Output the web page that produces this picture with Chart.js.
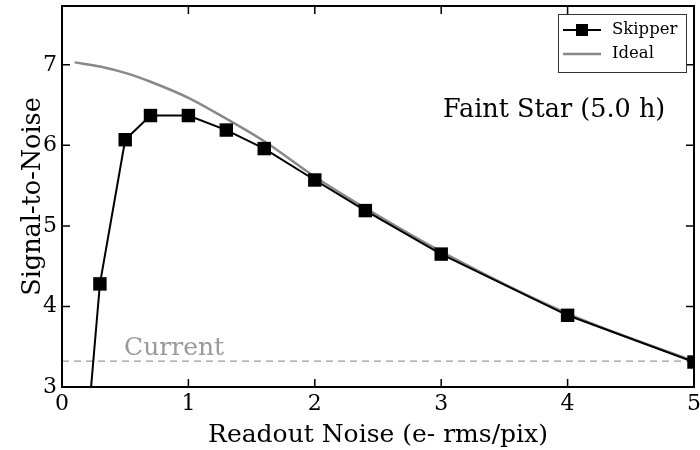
<!DOCTYPE html>
<html>
<head>
<meta charset="utf-8">
<script src="https://cdn.jsdelivr.net/npm/chart.js@4"></script>
<style>
  html, body { margin: 0; padding: 0; background: #fff; }
  #wrap { width: 700px; height: 450px; }
</style>
</head>
<body>
<div id="wrap"><canvas id="snr"></canvas></div>
<script>
// Readout noise values (e- rms/pix) and S/N
const skipperNoise = [0.2, 0.3, 0.5, 0.7, 1.0, 1.3, 1.6, 2.0, 2.4, 3.0, 4.0, 5.0];
const skipperSNR = [2.45, 4.28, 6.07, 6.37, 6.37, 6.19, 5.96, 5.57, 5.19, 4.65, 3.89, 3.31];

const idealNoise = [0.1, 0.3, 0.5, 0.7, 1.0, 1.3, 1.6, 2.0, 2.4, 3.0, 4.0, 5.0];
const idealSNR = [7.03, 6.98, 6.90, 6.79, 6.59, 6.33, 6.05, 5.61, 5.22, 4.68, 3.91, 3.32];

const currentLevel = 3.32;
const xTicks = [0, 1, 2, 3, 4, 5];
const yTicks = [3, 4, 5, 6, 7];

const SERIF = "'DejaVu Serif', serif";

const toPoints = (xs, ys) => xs.map((x, i) => ({ x: x, y: ys[i] }));

// keep the edge tick labels from pushing the plot area inwards
const noEdgePadding = (s) => {
  s.paddingLeft = s.paddingRight = s.paddingTop = s.paddingBottom = 0;
};

// inward ticks, frame, annotation text and legend, matplotlib style
const framePlugin = {
  id: "frame",
  afterDatasetsDraw(chart) {
    const { ctx, chartArea: a, scales } = chart;
    ctx.save();
    ctx.strokeStyle = "#000";
    ctx.lineWidth = 1.5;
    const len = 8;
    xTicks.forEach((v) => {
      const px = scales.x.getPixelForValue(v);
      ctx.beginPath();
      ctx.moveTo(px, a.bottom); ctx.lineTo(px, a.bottom - len);
      ctx.moveTo(px, a.top); ctx.lineTo(px, a.top + len);
      ctx.stroke();
    });
    yTicks.forEach((v) => {
      const py = scales.y.getPixelForValue(v);
      ctx.beginPath();
      ctx.moveTo(a.left, py); ctx.lineTo(a.left + len, py);
      ctx.moveTo(a.right, py); ctx.lineTo(a.right - len, py);
      ctx.stroke();
    });
    ctx.lineWidth = 2;
    ctx.strokeRect(a.left, a.top, a.right - a.left, a.bottom - a.top);

    // labels inside the plot
    ctx.textBaseline = "middle";
    ctx.fillStyle = "#000";
    ctx.font = "25.5px " + SERIF;
    ctx.textAlign = "left";
    ctx.fillText("Faint Star (5.0 h)", 443, 110);
    ctx.fillStyle = "#999";
    ctx.font = "25px " + SERIF;
    ctx.fillText("Current", 124, 348);

    // legend
    const lx = 558, ly = 14, lw = 128, lh = 58;
    ctx.fillStyle = "#fff";
    ctx.fillRect(lx, ly, lw, lh);
    ctx.strokeStyle = "#333";
    ctx.lineWidth = 1;
    ctx.strokeRect(lx + 0.5, ly + 0.5, lw, lh);
    const rows = [
      { label: chart.data.datasets[0].label, color: "#000", width: 2, marker: true, y: ly + 16 },
      { label: chart.data.datasets[1].label, color: "#888", width: 2.5, marker: false, y: ly + 40 },
    ];
    rows.forEach((r) => {
      ctx.strokeStyle = r.color;
      ctx.lineWidth = r.width;
      ctx.beginPath();
      ctx.moveTo(lx + 5, r.y); ctx.lineTo(lx + 43, r.y);
      ctx.stroke();
      if (r.marker) {
        ctx.fillStyle = "#000";
        ctx.fillRect(lx + 18, r.y - 6, 12, 12);
      }
      ctx.fillStyle = "#000";
      ctx.font = "16.5px " + SERIF;
      ctx.fillText(r.label, lx + 54, r.y);
    });
    ctx.restore();
  },
};

new Chart(document.getElementById("snr"), {
  type: "line",
  data: {
    datasets: [
      {
        label: "Skipper",
        data: toPoints(skipperNoise, skipperSNR),
        borderColor: "#000",
        backgroundColor: "#000",
        borderWidth: 2,
        pointStyle: "rect",
        pointRadius: 9.5,
        pointBorderWidth: 0,
        tension: 0,
        clip: 0,
      },
      {
        label: "Ideal",
        data: toPoints(idealNoise, idealSNR),
        borderColor: "#888",
        borderWidth: 2.5,
        pointRadius: 0,
        cubicInterpolationMode: "monotone",
      },
      {
        label: "Current",
        data: toPoints([xTicks[0], xTicks[xTicks.length - 1]], [currentLevel, currentLevel]),
        borderColor: "#999",
        borderWidth: 1.2,
        borderDash: [7, 5],
        pointRadius: 0,
      },
    ],
  },
  options: {
    responsive: true,
    maintainAspectRatio: false,
    animation: false,
    layout: { autoPadding: false, padding: { top: 6, right: 6, left: 0, bottom: 0 } },
    plugins: {
      legend: { display: false },
      tooltip: { enabled: false },
    },
    scales: {
      x: {
        type: "linear",
        min: 0,
        max: 5,
        grid: { display: false, drawTicks: false },
        border: { display: false },
        afterBuildTicks: (s) => { s.ticks = xTicks.map((v) => ({ value: v })); },
        afterFit: (s) => { s.height = 63; noEdgePadding(s); },
        ticks: { color: "#000", padding: 4, font: { family: SERIF, size: 22 } },
        title: {
          display: true,
          text: "Readout Noise (e- rms/pix)",
          color: "#000",
          font: { family: SERIF, size: 25 },
          padding: { top: 0, bottom: 0 },
        },
      },
      y: {
        min: 3,
        max: 7.73,
        grid: { display: false, drawTicks: false },
        border: { display: false },
        afterBuildTicks: (s) => { s.ticks = yTicks.map((v) => ({ value: v })); },
        afterFit: (s) => { s.width = 62; noEdgePadding(s); },
        ticks: { color: "#000", padding: 5, font: { family: SERIF, size: 22 } },
        title: {
          display: true,
          text: "Signal-to-Noise",
          color: "#000",
          font: { family: SERIF, size: 25.5 },
          padding: { top: 18, bottom: 0 },
        },
      },
    },
  },
  plugins: [framePlugin],
});
</script>
</body>
</html>
